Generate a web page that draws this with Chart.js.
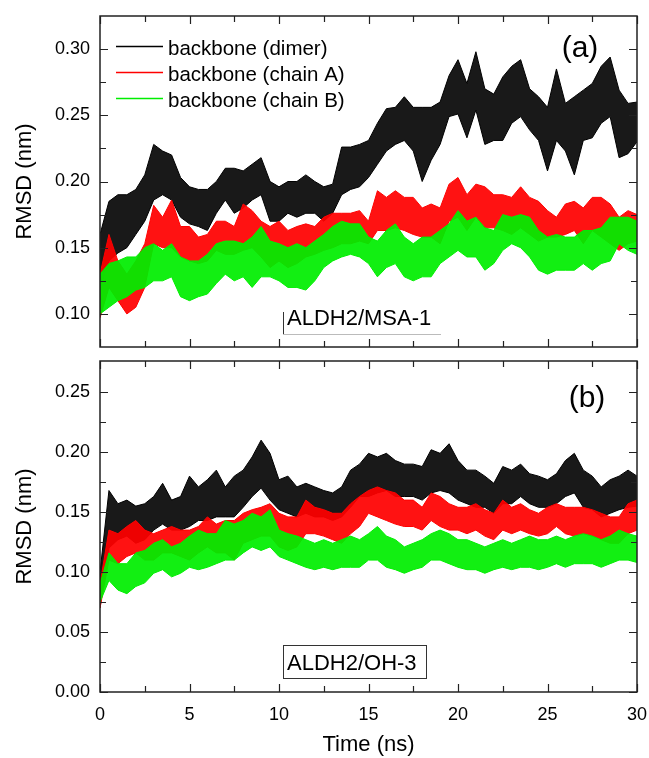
<!DOCTYPE html>
<html><head><meta charset="utf-8">
<script src="https://cdn.jsdelivr.net/npm/chart.js@4"></script>
<style>
html,body{margin:0;padding:0;background:#fff;}
#wrap{position:relative;width:649px;height:758px;overflow:hidden;}
#c1{position:absolute;left:0;top:0;}
#c2{position:absolute;left:0;top:350px;}
</style></head><body>
<div id="wrap"><canvas id="c1" width="649" height="350"></canvas><canvas id="c2" width="649" height="408"></canvas></div>
<script>
// ---- data (upper / lower edge of each noisy trace, every 0.5 ns) ----
const times = Array.from({length: 61}, (_, i) => i * 0.5);
const xTicks = [0, 5, 10, 15, 20, 25, 30];
const yTicksA = [0.10, 0.15, 0.20, 0.25, 0.30];
const yTicksB = [0.00, 0.05, 0.10, 0.15, 0.20, 0.25];
const seriesNames = ['backbone (dimer)', 'backbone (chain A)', 'backbone (chain B)'];
const panelLabels = ['(a)', '(b)'];
const systemLabels = ['ALDH2/MSA-1', 'ALDH2/OH-3'];

// panel (a) ALDH2/MSA-1
const aDimerHi = [0.160,0.185,0.190,0.190,0.194,0.205,0.228,0.223,0.220,0.203, 0.196,0.194,0.194,0.200,0.210, 0.210,0.208,0.213,0.218,0.200, 0.196,0.200,0.200,0.205,0.200, 0.196,0.198,0.226,0.226,0.228, 0.231,0.244,0.255,0.256,0.264, 0.256,0.256,0.256,0.260,0.280, 0.292,0.274,0.298,0.270,0.266, 0.279,0.287,0.292,0.270,0.264, 0.256,0.285,0.259,0.264,0.269, 0.274,0.287,0.294,0.269,0.259, 0.260];
const aDimerLo = [0.120,0.140,0.146,0.150,0.160,0.170,0.186,0.190,0.186,0.173, 0.168,0.166,0.163,0.176,0.186, 0.176,0.180,0.186,0.190,0.170, 0.170,0.176,0.173,0.176,0.176, 0.170,0.176,0.190,0.194,0.196, 0.203,0.213,0.223,0.228,0.231, 0.223,0.200,0.216,0.228,0.249, 0.251,0.233,0.254,0.228,0.231, 0.231,0.244,0.249,0.239,0.231, 0.208,0.231,0.223,0.205,0.231, 0.233,0.244,0.249,0.218,0.221, 0.230];
const aChainAHi = [0.130,0.160,0.140,0.130,0.140,0.153,0.182,0.173,0.186,0.166, 0.166,0.158,0.160,0.170,0.170, 0.166,0.183,0.178,0.170,0.166, 0.170,0.163,0.166,0.168,0.166, 0.173,0.176,0.176,0.176,0.178, 0.170,0.193,0.188,0.193,0.188, 0.188,0.180,0.183,0.180,0.198, 0.203,0.190,0.198,0.196,0.190, 0.190,0.188,0.196,0.188,0.185, 0.178,0.173,0.183,0.185,0.180, 0.188,0.188,0.183,0.173,0.178, 0.175];
const aChainALo = [0.097,0.120,0.110,0.100,0.105,0.120,0.153,0.150,0.150,0.143, 0.140,0.138,0.140,0.148,0.145, 0.145,0.148,0.150,0.143,0.135, 0.140,0.135,0.138,0.143,0.145, 0.148,0.150,0.153,0.153,0.155, 0.153,0.163,0.163,0.165,0.163, 0.160,0.158,0.158,0.153,0.170, 0.173,0.163,0.173,0.165,0.165, 0.163,0.160,0.165,0.160,0.155, 0.158,0.158,0.160,0.163,0.153, 0.163,0.158,0.153,0.148,0.153, 0.155];
const aChainBHi = [0.130,0.138,0.140,0.143,0.143,0.150,0.153,0.148,0.153,0.143, 0.140,0.140,0.145,0.153,0.155, 0.155,0.153,0.158,0.166,0.155, 0.153,0.150,0.153,0.150,0.155, 0.160,0.166,0.170,0.168,0.168, 0.158,0.155,0.163,0.168,0.158, 0.153,0.158,0.158,0.163,0.168, 0.178,0.170,0.173,0.165,0.163, 0.175,0.173,0.175,0.173,0.163, 0.158,0.160,0.158,0.158,0.163, 0.163,0.165,0.173,0.173,0.173, 0.170];
const aChainBLo = [0.100,0.105,0.110,0.113,0.118,0.120,0.125,0.125,0.128,0.113, 0.110,0.113,0.115,0.123,0.130, 0.125,0.128,0.120,0.128,0.128, 0.125,0.120,0.120,0.118,0.125, 0.135,0.140,0.143,0.145,0.143, 0.138,0.128,0.135,0.138,0.128, 0.125,0.128,0.128,0.138,0.143, 0.148,0.143,0.143,0.133,0.138, 0.148,0.153,0.150,0.143,0.133, 0.130,0.133,0.133,0.133,0.138, 0.133,0.138,0.140,0.153,0.148, 0.145];

// panel (b) ALDH2/OH-3
const bDimerHi = [0.100,0.168,0.157,0.160,0.155,0.157,0.163,0.174,0.160,0.163, 0.180,0.171,0.177,0.185,0.171, 0.180,0.185,0.196,0.210,0.199, 0.177,0.180,0.171,0.174,0.171, 0.168,0.166,0.171,0.185,0.190, 0.199,0.196,0.199,0.193,0.190, 0.190,0.188,0.202,0.199,0.207, 0.193,0.185,0.185,0.180,0.174, 0.188,0.185,0.190,0.182,0.180, 0.177,0.182,0.193,0.199,0.185, 0.180,0.171,0.177,0.180,0.185, 0.180];
const bDimerLo = [0.070,0.120,0.127,0.130,0.124,0.127,0.135,0.140,0.135,0.135, 0.138,0.143,0.143,0.146,0.146, 0.146,0.154,0.163,0.170,0.160, 0.152,0.149,0.146,0.149,0.146, 0.146,0.143,0.146,0.154,0.163, 0.163,0.166,0.168,0.163,0.163, 0.163,0.160,0.166,0.168,0.166, 0.160,0.157,0.154,0.154,0.149, 0.157,0.157,0.163,0.157,0.154, 0.154,0.157,0.163,0.166,0.154, 0.152,0.146,0.149,0.152,0.154, 0.155];
const bChainAHi = [0.090,0.135,0.132,0.138,0.143,0.135,0.132,0.135,0.138,0.135, 0.135,0.138,0.146,0.140,0.143, 0.143,0.149,0.152,0.154,0.157, 0.149,0.146,0.146,0.160,0.154, 0.152,0.149,0.149,0.157,0.163, 0.168,0.171,0.168,0.166,0.160, 0.160,0.154,0.166,0.163,0.157, 0.154,0.154,0.157,0.152,0.149, 0.160,0.154,0.157,0.152,0.149, 0.154,0.157,0.154,0.154,0.154, 0.152,0.149,0.146,0.146,0.157, 0.160];
const bChainALo = [0.070,0.110,0.107,0.113,0.116,0.110,0.110,0.116,0.116,0.113, 0.110,0.116,0.121,0.116,0.116, 0.110,0.124,0.127,0.130,0.130, 0.121,0.118,0.121,0.132,0.132, 0.130,0.127,0.124,0.132,0.138, 0.149,0.146,0.143,0.140,0.138, 0.138,0.135,0.143,0.138,0.135, 0.135,0.132,0.135,0.130,0.127, 0.135,0.132,0.135,0.132,0.130, 0.132,0.138,0.132,0.130,0.132, 0.130,0.127,0.124,0.124,0.132, 0.135];
const bChainBHi = [0.090,0.116,0.107,0.107,0.116,0.118,0.124,0.127,0.121,0.124, 0.130,0.135,0.132,0.132,0.143, 0.140,0.143,0.149,0.146,0.152, 0.135,0.132,0.130,0.127,0.124, 0.127,0.124,0.127,0.130,0.127, 0.132,0.138,0.130,0.127,0.121, 0.124,0.127,0.132,0.135,0.132, 0.127,0.127,0.124,0.121,0.124, 0.127,0.124,0.127,0.130,0.127, 0.127,0.130,0.127,0.130,0.132, 0.130,0.127,0.130,0.135,0.132, 0.130];
const bChainBLo = [0.075,0.093,0.085,0.082,0.088,0.091,0.099,0.102,0.096,0.099, 0.104,0.102,0.104,0.107,0.110, 0.110,0.116,0.121,0.118,0.121, 0.113,0.110,0.107,0.104,0.102, 0.104,0.102,0.104,0.104,0.104, 0.110,0.110,0.104,0.102,0.099, 0.102,0.104,0.110,0.110,0.107, 0.104,0.102,0.102,0.099,0.102, 0.104,0.102,0.104,0.104,0.102, 0.104,0.107,0.104,0.107,0.107, 0.107,0.104,0.107,0.110,0.110, 0.108];

// ---- styling ----
const FONT = '"Liberation Sans", Arial, Helvetica, sans-serif';
const colors = ['#000000', '#ff0000', '#00ee00'];
const fills = ['rgba(8,8,8,0.93)', 'rgba(255,0,0,0.93)', 'rgba(0,238,0,0.93)'];

function bandSets(hi, lo, k) {
  const hiPts = times.map((t, i) => ({x: t, y: hi[i]}));
  const loPts = times.map((t, i) => ({x: t, y: lo[i]}));
  const order = 2 - k;
  return [
    {data: loPts, borderColor: colors[k], borderWidth: 1, pointRadius: 0, fill: false, order},
    {data: hiPts, borderColor: colors[k], borderWidth: 1, pointRadius: 0, fill: '-1', backgroundColor: fills[k], order}
  ];
}

function decor(id, opts) {
  return {
    id: 'decor' + id,
    afterDatasetsDraw(chart) {
      const {ctx, chartArea: a, scales: {x, y}} = chart;
      ctx.save();
      ctx.strokeStyle = '#222';
      ctx.lineWidth = 1.2;
      const xt = x.ticks.map(t => t.value);
      const xm = xt.slice(1).map((v, i) => (v + xt[i]) / 2);
      const yt = y.ticks.map(t => t.value);
      const ym = yt.slice(1).map((v, i) => (v + yt[i]) / 2);
      ctx.beginPath();
      const xTick = (v, len) => {
        const p = Math.round(x.getPixelForValue(v)) + 0.5;
        ctx.moveTo(p, a.bottom); ctx.lineTo(p, a.bottom - len);
        ctx.moveTo(p, a.top); ctx.lineTo(p, a.top + len);
      };
      const yTick = (v, len) => {
        const p = Math.round(y.getPixelForValue(v)) + 0.5;
        ctx.moveTo(a.left, p); ctx.lineTo(a.left + len, p);
        ctx.moveTo(a.right, p); ctx.lineTo(a.right - len, p);
      };
      xt.forEach(v => xTick(v, 8)); xm.forEach(v => xTick(v, 6));
      yt.forEach(v => yTick(v, 8)); ym.forEach(v => yTick(v, 6));
      ctx.stroke();
      ctx.lineWidth = 1.5;
      ctx.strokeRect(a.left, a.top, a.right - a.left, a.bottom - a.top);

      ctx.fillStyle = '#000';
      ctx.font = '30px ' + FONT;
      ctx.textAlign = 'center'; ctx.textBaseline = 'alphabetic';
      ctx.fillText(opts.letter, opts.letterX, opts.letterY);
      ctx.font = '22px ' + FONT;
      ctx.textAlign = 'left';
      ctx.fillText(opts.sys, 287, opts.sysY);
      if (opts.box) {
        ctx.lineWidth = 1; ctx.strokeStyle = '#333';
        ctx.strokeRect(283.5, opts.boxTop + 0.5, 143, opts.boxH);
      } else {
        ctx.lineWidth = 1; ctx.strokeStyle = '#333';
        ctx.beginPath(); ctx.moveTo(283.5, opts.sysY - 13); ctx.lineTo(283.5, opts.sysY + 10); ctx.stroke();
        ctx.strokeStyle = '#bbb';
        ctx.beginPath(); ctx.moveTo(283, opts.sysY + 9.5); ctx.lineTo(441, opts.sysY + 9.5); ctx.stroke();
      }
      if (opts.legend) {
        ctx.font = '20.5px ' + FONT;
        ctx.textAlign = 'left';
        const rows = [46, 72, 98];
        seriesNames.forEach((nm, k) => {
          ctx.strokeStyle = colors[k]; ctx.lineWidth = 1.3;
          ctx.beginPath(); ctx.moveTo(116, rows[k] + 0.5); ctx.lineTo(163, rows[k] + 0.5); ctx.stroke();
          ctx.fillStyle = '#000';
          ctx.fillText(nm, 168, rows[k] + 9);
        });
      }
      ctx.restore();
    }
  };
}

const noPad = s => { s.paddingTop = 0; s.paddingBottom = 0; s.paddingLeft = 0; s.paddingRight = 0; };

function yAxis(min, max, ticks) {
  return {
    type: 'linear', min, max,
    grid: {display: false, drawTicks: false}, border: {display: false},
    ticks: {font: {family: FONT, size: 18}, color: '#000', padding: 10, callback: v => v.toFixed(2)},
    afterBuildTicks: s => { s.ticks = ticks.map(v => ({value: v})); },
    afterFit: s => { s.width = 100; noPad(s); },
    title: {display: true, text: 'RMSD (nm)', font: {family: FONT, size: 22}, color: '#000', padding: {top: 12, bottom: 0}}
  };
}

const common = {
  responsive: false, animation: false, devicePixelRatio: 1,
  plugins: {legend: {display: false}, tooltip: {enabled: false}},
  elements: {line: {tension: 0}}
};

new Chart(document.getElementById('c1'), {
  type: 'line',
  data: {datasets: [
    ...bandSets(aDimerHi, aDimerLo, 0),
    ...bandSets(aChainAHi, aChainALo, 1),
    ...bandSets(aChainBHi, aChainBLo, 2)
  ]},
  options: Object.assign({}, common, {
    layout: {padding: {top: 16, right: 12, left: 0, bottom: 0}, autoPadding: false},
    scales: {
      x: {type: 'linear', min: 0, max: 30,
          grid: {display: false, drawTicks: false}, border: {display: false},
          ticks: {display: false},
          afterBuildTicks: s => { s.ticks = xTicks.map(v => ({value: v})); },
          afterFit: s => { s.height = 3; noPad(s); }},
      y: yAxis(0.075, 0.325, yTicksA)
    }
  }),
  plugins: [decor('a', {letter: panelLabels[0], letterX: 580, letterY: 57, sys: systemLabels[0], sysY: 325, box: false, legend: true})]
});

new Chart(document.getElementById('c2'), {
  type: 'line',
  data: {datasets: [
    ...bandSets(bDimerHi, bDimerLo, 0),
    ...bandSets(bChainAHi, bChainALo, 1),
    ...bandSets(bChainBHi, bChainBLo, 2)
  ]},
  options: Object.assign({}, common, {
    layout: {padding: {top: 11, right: 12, left: 0, bottom: 0}, autoPadding: false},
    scales: {
      x: {type: 'linear', min: 0, max: 30,
          grid: {display: false, drawTicks: false}, border: {display: false},
          ticks: {font: {family: FONT, size: 18}, color: '#000', padding: 12, maxRotation: 0},
          afterBuildTicks: s => { s.ticks = xTicks.map(v => ({value: v})); },
          afterFit: s => { s.height = 66; noPad(s); },
          title: {display: true, text: 'Time (ns)', font: {family: FONT, size: 22}, color: '#000', padding: {top: 0, bottom: 0}}},
      y: yAxis(0, 0.276, yTicksB)
    }
  }),
  plugins: [decor('b', {letter: panelLabels[1], letterX: 587, letterY: 57, sys: systemLabels[1], sysY: 320, box: true, boxTop: 295, boxH: 33, legend: false})]
});
</script>
</body></html>
